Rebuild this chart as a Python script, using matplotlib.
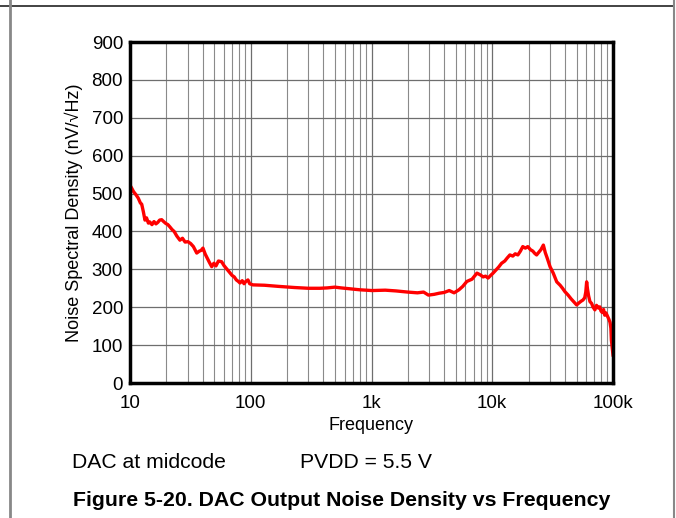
import matplotlib.pyplot as plt
from matplotlib.lines import Line2D
from matplotlib.ticker import FixedLocator, NullFormatter

plt.rcParams["font.family"] = ["Liberation Sans", "DejaVu Sans"]

# ── Data ──────────────────────────────────────────────────────────────────────
freq = [
    10, 10.3, 10.7, 11.2, 11.7, 12.2, 12.5, 12.9, 13.3, 13.7, 14.2, 14.6,
    15.2, 15.8, 16.4, 17.0, 17.6, 18.3, 19.0, 19.8, 20.6, 21.4, 22.3, 23.2,
    24.4, 25.9, 27.2, 28.6, 30.2, 31.8, 33.5, 35.7, 37.5, 38.8, 40.2, 42.0,
    44.0, 45.5, 47.5, 49.5, 51.5, 54.0, 57.4, 60.0, 62.5, 65.0, 67.3, 70.0,
    73.0, 76.0, 79.0, 81.4, 85.0, 88.0, 91.0, 94.8, 98.0, 104, 130, 170,
    230, 300, 373, 430, 497, 560, 650, 800, 1010, 1300, 1600, 1990, 2400,
    2700, 2960, 3300, 3640, 4000, 4400, 4830, 5300, 5700, 6160, 6800, 7470,
    8000, 8400, 8800, 9240, 9700, 10160, 10700, 11300, 11950, 12700, 13300,
    14000, 14800, 15500, 16300, 17100, 17900, 18800, 19700, 20700, 21700,
    22500, 23300, 24300, 25300, 26500, 27500, 28500, 30100, 32000, 34200,
    36500, 38200, 40000, 42500, 45000, 47500, 50000, 52500, 54500, 56400,
    58300, 59500, 60500, 61500, 62800, 64400, 66500, 68500, 70800, 73000,
    75500, 77700, 79500, 81500, 83500, 85400, 87500, 89000, 90500, 92500,
    94500, 96000, 97000, 98000, 99000, 100000,
]
noise = [
    522, 515, 505, 497, 488, 475, 472, 452, 430, 436, 422, 425,
    418, 426, 420, 424, 430, 431, 426, 421, 418, 412, 405, 400,
    388, 377, 382, 372, 373, 368, 360, 343, 348, 350, 356, 340,
    327, 318, 307, 316, 309, 322, 320, 310, 303, 296, 290, 284,
    280, 272, 268, 264, 270, 262, 268, 272, 262, 259, 258, 255,
    252, 250, 250, 251, 253, 251, 249, 246, 244, 245, 243, 240, 238,
    240, 232, 234, 237, 239, 244, 238, 246, 255, 268, 274, 290,
    285, 280, 282, 277, 284, 290, 298, 306, 316, 322, 330,
    338, 335, 341, 338, 348, 360, 356, 360, 352, 348,
    342, 338, 345, 352, 364, 344, 330, 307, 290, 267,
    258, 250, 241, 232, 222, 214, 206, 212, 216, 219,
    225, 240, 267, 248, 230, 215, 210, 200, 193, 205,
    198, 201, 190, 186, 194, 179, 185, 180, 175, 168,
    160, 145, 113, 100, 85, 74,
]

# ── Figure ────────────────────────────────────────────────────────────────────
fig = plt.figure(figsize=(6.76, 5.18), dpi=100)
ax = fig.add_axes([130 / 676, 135 / 518, 483 / 676, 341 / 518])

ax.set_xscale("log")
ax.set_xlim(10, 100000)
ax.set_ylim(0, 900)

# grid: darker decades, lighter minor lines
minor = [m * 10 ** d for d in range(1, 5) for m in range(2, 10)]
ax.xaxis.set_minor_locator(FixedLocator(minor))
ax.xaxis.set_minor_formatter(NullFormatter())
ax.grid(True, which="major", axis="both", color="#6e6e6e", lw=0.9)
ax.grid(True, which="minor", axis="x", color="#8a8a8a", lw=0.8)
ax.set_axisbelow(True)

ax.set_xticks([10, 100, 1000, 10000, 100000])
ax.set_xticklabels(["10", "100", "1k", "10k", "100k"])
ax.set_yticks(range(0, 901, 100))
ax.tick_params(which="both", length=0, labelsize=13.5)
ax.tick_params(axis="x", pad=9)
ax.tick_params(axis="y", pad=5)

for spine in ax.spines.values():
    spine.set_linewidth(2.5)
    spine.set_color("black")

ax.plot(freq, noise, color="#ff0000", lw=2.4, solid_joinstyle="round")

ax.set_xlabel("Frequency", fontsize=13, labelpad=3)
ax.set_ylabel("Noise Spectral Density (nV/\u221aHz)", fontsize=13, labelpad=6)

# ── Captions ──────────────────────────────────────────────────────────────────
fig.text(72 / 676, 1 - 463 / 518, "DAC at midcode", fontsize=15.2, va="center", ha="left")
fig.text(300 / 676, 1 - 463 / 518, "PVDD = 5.5 V", fontsize=15.2, va="center", ha="left")
fig.text(342 / 676, 1 - 500 / 518, "Figure 5-20. DAC Output Noise Density vs Frequency",
         fontsize=15.3, fontweight="bold", va="center", ha="center")

# ── Page frame lines ──────────────────────────────────────────────────────────
fig.add_artist(Line2D([0, 674 / 676], [1 - 5.5 / 518] * 2, transform=fig.transFigure,
                      color="#222222", lw=1.2))
fig.add_artist(Line2D([10 / 676] * 2, [0, 1], transform=fig.transFigure,
                      color="#888888", lw=2))
fig.add_artist(Line2D([673.5 / 676] * 2, [0, 1], transform=fig.transFigure,
                      color="#888888", lw=1.5))

fig.savefig("out.png", dpi=100)
